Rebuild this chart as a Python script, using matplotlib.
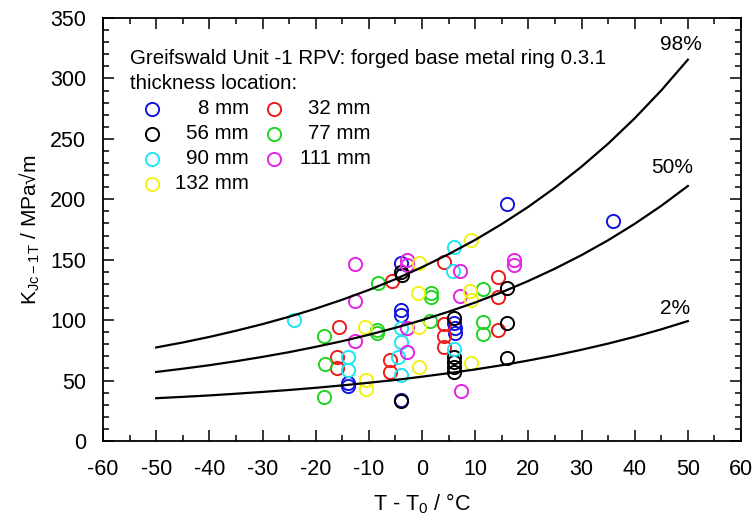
import matplotlib
matplotlib.use("Agg")
import matplotlib.pyplot as plt
from matplotlib.ticker import MultipleLocator

plt.rcParams['font.family'] = ['Liberation Sans', 'DejaVu Sans']
plt.rcParams['axes.unicode_minus'] = False
plt.rcParams['mathtext.fontset'] = 'custom'
plt.rcParams['mathtext.rm'] = 'Liberation Sans'

# ---- data ----
curve_T = [-50, -45, -40, -35, -30, -25, -20, -15, -10, -5, 0, 5, 10, 15, 20, 25, 30, 35, 40, 45, 50]
curve_98 = [77.4, 81.5, 86.1, 91.2, 96.7, 102.8, 109.5, 116.9, 125.0, 133.9, 143.8, 154.6, 166.4,
            179.5, 193.8, 209.6, 227.0, 246.0, 267.0, 290.1, 315.5]
curve_50 = [57.1, 59.8, 62.7, 66.0, 69.6, 73.5, 77.9, 82.6, 87.9, 93.7, 100.0, 107.0, 114.6,
            123.1, 132.4, 142.6, 153.8, 166.1, 179.7, 194.6, 211.0]
curve_2 = [35.4, 36.5, 37.7, 39.1, 40.6, 42.2, 44.0, 46.0, 48.2, 50.5, 53.2, 56.1, 59.2,
           62.7, 66.6, 70.8, 75.5, 80.6, 86.2, 92.4, 99.2]
curve_labels = ["98%", "50%", "2%"]

t_8mm = [-13.9, -13.9, -4.0, -4.0, -4.0, 6.1, 6.2, 6.2, 16.0, 36.0, -4.0]
k_8mm = [48.0, 45.5, 147.5, 108.0, 104.5, 97.5, 93.5, 89.5, 196.5, 182.0, 34.0]

t_32mm = [-15.7, -15.9, -15.9, -5.7, -6.0, -6.0, 4.1, 4.1, 4.1, 4.1, 14.2, 14.2, 14.2]
k_32mm = [94.5, 69.5, 60.0, 132.5, 67.0, 57.0, 148.0, 97.0, 86.5, 77.5, 135.5, 119.0, 91.5]

t_56mm = [-4.0, -3.8, -4.0, 6.0, 6.0, 6.0, 6.0, 6.0, 15.9, 15.9, 15.9]
k_56mm = [139.5, 137.0, 33.0, 101.5, 69.7, 65.6, 61.5, 57.3, 127.0, 98.0, 68.5]

t_77mm = [-8.3, -8.5, -8.5, -18.4, -18.2, -18.4, 1.6, 1.6, 1.5, 11.5, 11.5, 11.5]
k_77mm = [130.5, 92.0, 89.5, 87.0, 64.0, 36.5, 122.5, 119.0, 99.5, 125.5, 98.5, 88.5]

t_90mm = [-24.0, -14.0, -14.0, -4.0, -4.0, -4.5, -4.0, 6.0, 5.8, 6.0]
k_90mm = [100.5, 69.5, 59.0, 93.5, 82.0, 69.5, 54.5, 160.5, 140.5, 76.5]

t_111mm = [-12.6, -12.6, -12.6, -2.8, -2.8, -2.8, -2.8, 7.2, 7.1, 7.3, 17.3, 17.3]
k_111mm = [146.5, 116.0, 83.0, 149.5, 145.5, 93.8, 73.3, 141.0, 120.0, 41.5, 150.0, 145.5]

t_132mm = [-10.7, -10.6, -10.6, -0.6, -0.7, -0.5, -0.5, 9.3, 9.1, 9.3, 9.3]
k_132mm = [94.6, 50.5, 43.0, 147.0, 122.7, 94.6, 61.5, 166.5, 124.3, 116.6, 64.2]

series_labels = ["8 mm", "32 mm", "56 mm", "77 mm", "90 mm", "111 mm", "132 mm"]
series_t = [t_8mm, t_32mm, t_56mm, t_77mm, t_90mm, t_111mm, t_132mm]
series_k = [k_8mm, k_32mm, k_56mm, k_77mm, k_90mm, k_111mm, k_132mm]
series_colors = ['#1414e0', '#ee1c1c', '#000000', '#22d422', '#1ee6f5', '#e622e6', '#f2f212']

title_text = "Greifswald Unit -1 RPV: forged base metal ring 0.3.1"
subtitle_text = "thickness location:"

fig = plt.figure(figsize=(7.54, 5.22), dpi=100)
ax = fig.add_axes([0.1366, 0.1552, 0.8462, 0.8103])

mkw = dict(linestyle='none', marker='o', markersize=9.5, markerfacecolor='none', markeredgewidth=1.4)
for t, k, c in zip(series_t, series_k, series_colors):
    ax.plot(t, k, markeredgecolor=c, **mkw)

for cv in (curve_98, curve_50, curve_2):
    ax.plot(curve_T, cv, color='black', lw=1.6)

label_pos = [(48.7, 328), (47.0, 226), (47.6, 110)]
for lab, (x, y) in zip(curve_labels, label_pos):
    ax.text(x, y, lab, fontsize=15, ha='center', va='center')

ax.set_xlim(-60, 60)
ax.set_ylim(0, 350)
ax.xaxis.set_major_locator(MultipleLocator(10))
ax.xaxis.set_minor_locator(MultipleLocator(5))
ax.yaxis.set_major_locator(MultipleLocator(50))
ax.yaxis.set_minor_locator(MultipleLocator(10))
ax.tick_params(which='both', direction='in', top=True, right=True, labelsize=15.5, width=1.1)
ax.tick_params(which='major', length=8)
ax.tick_params(which='minor', length=4)
ax.tick_params(axis='x', pad=13)
ax.tick_params(axis='y', pad=12)
for s in ax.spines.values():
    s.set_linewidth(1.3)

ax.set_xlabel("T - T$_\\mathregular{0}$ / °C", fontsize=15.5, labelpad=8)
ax.set_ylabel("K$_\\mathregular{Jc-1T}$ / MPa√m", fontsize=15, labelpad=6)

# annotation block (legend drawn manually, row-wise)
ax.text(0.0423, 0.9054, title_text, transform=ax.transAxes, fontsize=14.8, ha='left', va='center')
ax.text(0.0423, 0.8463, subtitle_text, transform=ax.transAxes, fontsize=14.8, ha='left', va='center')
row_y = [0.7849, 0.7258, 0.6667, 0.6076]
col_marker_x = [0.0768, 0.268]
col_text_x = [0.2288, 0.420]
for i, (lab, c) in enumerate(zip(series_labels, series_colors)):
    r, col = divmod(i, 2)
    ax.plot([col_marker_x[col]], [row_y[r]], transform=ax.transAxes, clip_on=False,
            markeredgecolor=c, **mkw)
    ax.text(col_text_x[col], row_y[r], lab, transform=ax.transAxes, fontsize=14.8,
            ha='right', va='center')

fig.savefig("out.png", dpi=100)
